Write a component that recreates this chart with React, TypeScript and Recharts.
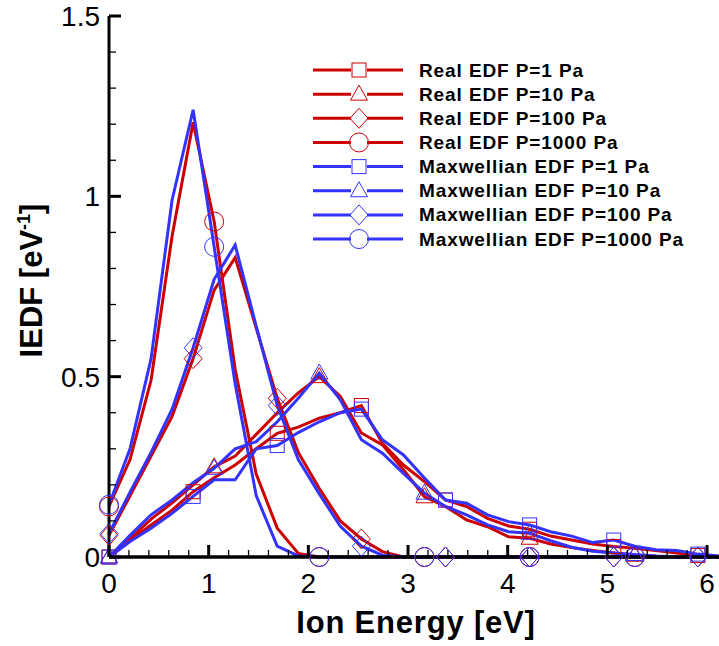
import { LineChart, Line, XAxis, YAxis, Legend, Label } from "recharts";

const RED = "#cc0000";
const BLUE = "#3333ff";
const FONT = "'Liberation Sans', Arial, Helvetica, sans-serif";

// ion energy grid [eV]
const energy = [
  0, 0.211, 0.422, 0.633, 0.844, 1.055, 1.266, 1.477, 1.688, 1.899,
  2.11, 2.321, 2.532, 2.743, 2.954, 3.165, 3.376, 3.587, 3.798, 4.009,
  4.22, 4.431, 4.642, 4.853, 5.064, 5.275, 5.486, 5.697, 5.908, 6.119,
];

// IEDF [1/eV], real electron distribution
const realP1 = [
  0, 0.045, 0.089, 0.13, 0.181, 0.22, 0.255, 0.3, 0.343, 0.36,
  0.385, 0.4, 0.42, 0.315, 0.255, 0.209, 0.158, 0.14, 0.107, 0.086,
  0.077, 0.058, 0.047, 0.036, 0.029, 0.024, 0.018, 0.011, 0.004, 0.001,
];
const realP10 = [
  0, 0.05, 0.105, 0.15, 0.2, 0.25, 0.28, 0.34, 0.4, 0.455,
  0.5, 0.445, 0.344, 0.311, 0.242, 0.167, 0.14, 0.103, 0.084, 0.056,
  0.052, 0.036, 0.026, 0.018, 0.011, 0.005, 0.002, 0.001, 0, 0,
];
const realP100 = [
  0.06, 0.17, 0.28, 0.39, 0.55, 0.74, 0.83, 0.635, 0.44, 0.29,
  0.19, 0.1, 0.05, 0.015, 0, 0, 0, 0, 0, 0,
  0, 0, 0, 0, 0, 0, 0, 0, 0, 0,
];
const realP1000 = [
  0.14, 0.27, 0.49, 0.89, 1.205, 0.93, 0.52, 0.23, 0.08, 0.01,
  0, 0, 0, 0, 0, 0, 0, 0, 0, 0,
  0, 0, 0, 0, 0, 0, 0, 0, 0, 0,
];

// IEDF [1/eV], Maxwellian electron distribution
const maxP1 = [
  0, 0.043, 0.08, 0.121, 0.168, 0.214, 0.214, 0.3, 0.309, 0.345,
  0.375, 0.4, 0.41, 0.325, 0.283, 0.219, 0.158, 0.149, 0.117, 0.098,
  0.089, 0.07, 0.058, 0.04, 0.047, 0.03, 0.02, 0.018, 0.008, 0.003,
];
const maxP10 = [
  0, 0.06, 0.117, 0.158, 0.206, 0.246, 0.3, 0.32, 0.375, 0.44,
  0.51, 0.436, 0.325, 0.288, 0.232, 0.177, 0.14, 0.117, 0.089, 0.07,
  0.066, 0.045, 0.027, 0.016, 0.011, 0.007, 0.003, 0.001, 0, 0,
];
const maxP100 = [
  0.065, 0.18, 0.29, 0.41, 0.58, 0.77, 0.865, 0.64, 0.42, 0.27,
  0.175, 0.085, 0.03, 0.005, 0, 0, 0, 0, 0, 0,
  0, 0, 0, 0, 0, 0, 0, 0, 0, 0,
];
const maxP1000 = [
  0.145, 0.3, 0.55, 0.99, 1.24, 0.86, 0.48, 0.17, 0.03, 0.003,
  0, 0, 0, 0, 0, 0, 0, 0, 0, 0,
  0, 0, 0, 0, 0, 0, 0, 0, 0, 0,
];

const xTicks = [
  0, 0.2, 0.4, 0.6, 0.8, 1, 1.2, 1.4, 1.6, 1.8, 2, 2.2, 2.4, 2.6, 2.8, 3,
  3.2, 3.4, 3.6, 3.8, 4, 4.2, 4.4, 4.6, 4.8, 5, 5.2, 5.4, 5.6, 5.8, 6,
];
const xLabels = [0, 1, 2, 3, 4, 5, 6];
const yTicks = [0, 0.1, 0.2, 0.3, 0.4, 0.5, 0.6, 0.7, 0.8, 0.9, 1, 1.1, 1.2, 1.3, 1.4, 1.5];
const yLabels = [0, 0.5, 1, 1.5];

type Shape = "square" | "triangle" | "diamond" | "circle";

// reds drawn first so the blues sit on top, like the original
const series: { name: string; values: number[]; color: string; shape: Shape; every: number }[] = [
  { name: "Real EDF P=1 Pa", values: realP1, color: RED, shape: "square", every: 4 },
  { name: "Real EDF P=10 Pa", values: realP10, color: RED, shape: "triangle", every: 5 },
  { name: "Real EDF P=100 Pa", values: realP100, color: RED, shape: "diamond", every: 4 },
  { name: "Real EDF P=1000 Pa", values: realP1000, color: RED, shape: "circle", every: 5 },
  { name: "Maxwellian EDF P=1 Pa", values: maxP1, color: BLUE, shape: "square", every: 4 },
  { name: "Maxwellian EDF P=10 Pa", values: maxP10, color: BLUE, shape: "triangle", every: 5 },
  { name: "Maxwellian EDF P=100 Pa", values: maxP100, color: BLUE, shape: "diamond", every: 4 },
  { name: "Maxwellian EDF P=1000 Pa", values: maxP1000, color: BLUE, shape: "circle", every: 5 },
];

const rows = (vals: number[]) => energy.map((x, i) => ({ x, y: vals[i] }));

function Marker({ shape, cx, cy, color }: { shape: Shape; cx: number; cy: number; color: string }) {
  const st = { fill: "none", stroke: color, strokeWidth: 1 };
  if (shape === "square") return <rect x={cx - 7} y={cy - 7} width={14} height={14} {...st} />;
  if (shape === "triangle")
    return <polygon points={`${cx},${cy - 9} ${cx + 8.5},${cy + 6} ${cx - 8.5},${cy + 6}`} {...st} />;
  if (shape === "diamond")
    return <polygon points={`${cx},${cy - 10} ${cx + 9},${cy} ${cx},${cy + 10} ${cx - 9},${cy}`} {...st} />;
  return <circle cx={cx} cy={cy} r={9.5} {...st} />;
}

const XTick = ({ x, y, payload }: any) => {
  const v = payload.value;
  const major = xLabels.includes(v);
  return (
    <g>
      <line x1={x} x2={x} y1={y} y2={y - (major ? 12 : 7)} stroke="#000" strokeWidth={major ? 3 : 1.3} />
      {major && (
        <text x={x} y={y + 36} textAnchor="middle" fontSize={28} fontFamily={FONT} fill="#000">
          {v}
        </text>
      )}
    </g>
  );
};

const YTick = ({ x, y, payload }: any) => {
  const v = payload.value;
  const major = yLabels.includes(v);
  return (
    <g>
      <line x1={x} x2={x + (major ? 12 : 7)} y1={y} y2={y} stroke="#000" strokeWidth={major ? 3 : 1.3} />
      {major && (
        <text x={x - 9} y={y + 10} textAnchor="end" fontSize={28} fontFamily={FONT} fill="#000">
          {v}
        </text>
      )}
    </g>
  );
};

const XTitle = ({ viewBox }: any) => (
  <text
    x={viewBox.x + viewBox.width / 2 + 2}
    y={viewBox.y + 76}
    textAnchor="middle"
    fontSize={31}
    fontWeight="bold"
    letterSpacing={0.8}
    fontFamily={FONT}
    fill="#000"
  >
    Ion Energy [eV]
  </text>
);

const YTitle = ({ viewBox }: any) => {
  const cx = 42;
  const cy = viewBox.y + viewBox.height / 2 - 6;
  return (
    <text
      x={cx}
      y={cy}
      transform={`rotate(-90, ${cx}, ${cy})`}
      textAnchor="middle"
      fontSize={31}
      fontWeight="bold"
      fontFamily={FONT}
      fill="#000"
    >
      IEDF [eV
      <tspan fontSize={18} dy={-12}>-1</tspan>
      <tspan dy={12}>]</tspan>
    </text>
  );
};

const LegendBox = () => (
  <svg width={419} height={200}>
    {series.map((s, i) => {
      const y = 15 + i * 24.15;
      return (
        <g key={s.name}>
          <line x1={13} x2={103} y1={y} y2={y} stroke={s.color} strokeWidth={3} />
          <rect x={51} y={y - 10} width={16} height={20} fill="#fff" />
          <Marker shape={s.shape} cx={59} cy={y} color={s.color} />
          <text
            x={119}
            y={y + 6.5}
            fontSize={19}
            fontWeight="bold"
            letterSpacing={0.9}
            fontFamily={FONT}
            fill="#000"
          >
            {s.name}
          </text>
        </g>
      );
    })}
  </svg>
);

export default function App() {
  return (
    <>
      <style>{"body{margin:0}"}</style>
      <LineChart width={719} height={646} margin={{ top: 16, right: 0, bottom: 0, left: 0 }}>
        {series.map((s) => (
          <Line
            key={"l" + s.name}
            data={rows(s.values)}
            dataKey="y"
            name={s.name}
            type="linear"
            stroke={s.color}
            strokeWidth={3}
            strokeLinejoin="miter"
            dot={false}
            activeDot={false}
            isAnimationActive={false}
          />
        ))}
        <XAxis
          type="number"
          dataKey="x"
          domain={[0, 6.12]}
          ticks={xTicks}
          interval={0}
          tick={XTick}
          tickLine={false}
          tickSize={0}
          tickMargin={0}
          height={89}
          axisLine={{ stroke: "#000", strokeWidth: 3.5 }}
        >
          <Label content={XTitle} />
        </XAxis>
        <YAxis
          type="number"
          domain={[0, 1.5]}
          ticks={yTicks}
          interval={0}
          tick={YTick}
          tickLine={false}
          tickSize={0}
          tickMargin={0}
          width={109}
          axisLine={{ stroke: "#000", strokeWidth: 3 }}
        >
          <Label content={YTitle} />
        </YAxis>
        {series.map((s) => (
          <Line
            key={"m" + s.name}
            data={rows(s.values)}
            dataKey="y"
            legendType="none"
            stroke="none"
            activeDot={false}
            isAnimationActive={false}
            dot={(p: any) =>
              p.index % s.every === 0 ? (
                <Marker key={p.index} shape={s.shape} cx={p.cx} cy={p.cy} color={s.color} />
              ) : (
                <g key={p.index} />
              )
            }
          />
        ))}
        <Legend
          content={LegendBox}
          layout="vertical"
          align="center"
          verticalAlign="middle"
          wrapperStyle={{ left: 300, top: 55, width: 419, height: 200 }}
        />
      </LineChart>
    </>
  );
}
